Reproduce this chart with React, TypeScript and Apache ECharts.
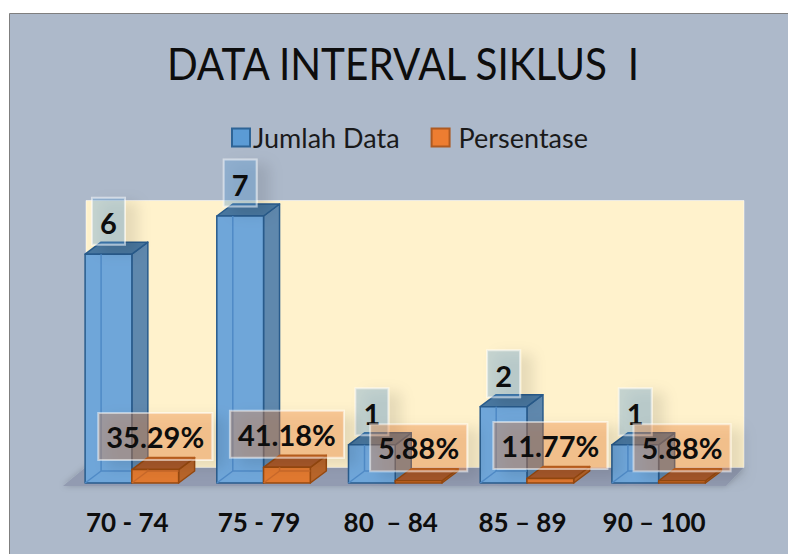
import React, { useEffect, useRef } from "react";
import * as echarts from "echarts";

const titleText = "DATA INTERVAL SIKLUS  I";
const categories = ["70 - 74", "75 - 79", "80  – 84", "85 – 89", "90 – 100"];
const jumlahData = [6, 7, 1, 2, 1];
const persentase = [0.3529, 0.4118, 0.0588, 0.1177, 0.0588];
const seriesNames = ["Jumlah Data", "Persentase"];

const FONT = "Lato, Carlito, Calibri, sans-serif";
const DX = 16;
const DY = 12;
const GRID = { left: 66, top: 216, width: 658.5, height: 267 };

type Palette = { front: string; side: string; top: string; edge: string; inner: string; box: string; textDy: number };
const BLUE: Palette = {
  front: "#6fa6d9", side: "#5f88ad", top: "#49779f", edge: "#285b8c", inner: "#4f8ac6", box: "rgba(91,155,213,0.35)", textDy: 1.5,
};
const ORANGE: Palette = {
  front: "#e0782f", side: "#b8652a", top: "#a9592a", edge: "#97490f", inner: "#c9692a", box: "rgba(237,125,49,0.35)", textDy: 0,
};

function makeRender(p: Palette, side: "left" | "right", fmt: (v: number) => string, boxW: (s: string) => number) {
  return (_params: any, api: any) => {
    const idx = api.value(0);
    const v = api.value(1);
    const [cx, top] = api.coord([idx, v]);
    const [, base] = api.coord([idx, 0]);
    const w = api.size([1, 0])[0] * 0.355;
    const x = side === "left" ? cx - w : cx;
    const r = x + w;
    const edge = { stroke: p.edge, lineWidth: 1.5, lineJoin: "round" };
    const label = fmt(v);
    const bw = boxW(label);
    const bh = 47;
    const bx = x + w / 2 - bw / 2;
    const by = top - 9.5 - bh;
    const h = Math.max(base - top, 0);
    const innerLine = (x1: number, y1: number, x2: number, y2: number) => ({
      type: "line",
      shape: { x1, y1, x2, y2 },
      style: { stroke: p.inner, lineWidth: 1.5 },
    });
    return {
      type: "group",
      children: [
        {
          type: "polygon",
          shape: { points: [[r, top], [r + DX, top - DY], [r + DX, base - DY], [r, base]] },
          style: { fill: p.side, ...edge },
        },
        {
          type: "polygon",
          shape: { points: [[x, top], [x + DX, top - DY], [r + DX, top - DY], [r, top]] },
          style: { fill: p.top, ...edge },
        },
        { type: "rect", shape: { x, y: top, width: w, height: h }, style: { fill: p.front, ...edge } },
        ...(h > 13
          ? [
              innerLine(x + DX, top, x + DX, base - DY),
              innerLine(x + DX, base - DY, r, base - DY),
              innerLine(x, base, x + DX, base - DY),
            ]
          : []),
        {
          type: "rect",
          shape: { x: bx, y: by, width: bw, height: bh },
          style: {
            fill: p.box,
            stroke: "rgba(255,255,255,0.5)",
            lineWidth: 2,
            shadowColor: "rgba(0,0,0,0.28)",
            shadowBlur: 14,
            shadowOffsetX: 11,
            shadowOffsetY: 6,
          },
        },
        {
          type: "text",
          style: {
            x: bx + bw / 2,
            y: by + bh / 2 + p.textDy,
            text: label,
            fill: "#0d0d0d",
            font: `bold 29px ${FONT}`,
            align: "center",
            verticalAlign: "middle",
          },
        },
      ],
    };
  };
}

export default function App() {
  const ref = useRef<HTMLDivElement>(null);
  useEffect(() => {
    document.body.style.margin = "0";
    const chart = echarts.init(ref.current!, undefined, { renderer: "svg" });
    chart.setOption({
      animation: false,
      backgroundColor: "#ffffff",
      legend: {
        left: 226,
        top: 119,
        itemWidth: 18,
        itemHeight: 18,
        itemGap: 31,
        icon: "rect",
        data: [
          { name: seriesNames[0] },
          { name: seriesNames[1], textStyle: { padding: [0, 0, 0, 4] } },
        ],
        textStyle: { fontFamily: FONT, fontSize: 27, color: "#1a1a1a", padding: [0, 0, 0, -2] },
      },
      graphic: [
        {
          type: "rect",
          z: -3,
          shape: { x: 9.5, y: 13.5, width: 790, height: 550 },
          style: { fill: "#adb9ca", stroke: "#7f7f7f", lineWidth: 1 },
        },
        {
          type: "polygon",
          z: -2,
          shape: { points: [[63, 486], [86, 467], [744, 467], [726, 486]] },
          style: { fill: "#929bb1", shadowColor: "rgba(0,0,0,0.2)", shadowBlur: 6 },
        },
        {
          type: "rect",
          z: -1,
          shape: { x: 86, y: 200.5, width: 658, height: 267 },
          style: { fill: "#fff2cc", stroke: "rgba(255,255,255,0.5)", lineWidth: 1 },
        },
        {
          type: "text",
          x: 403,
          y: 63,
          scaleX: 0.92,
          style: {
            text: titleText,
            fill: "#0d0d0d",
            font: `normal 44px ${FONT}`,
            align: "center",
            verticalAlign: "middle",
          },
        },
      ],
      grid: GRID,
      xAxis: {
        type: "category",
        data: categories,
        axisLine: { show: false },
        axisTick: { show: false },
        axisLabel: {
          interval: 0,
          margin: 26,
          padding: [0, 9, 0, 0],
          fontFamily: FONT,
          fontSize: 26,
          fontWeight: "bold",
          color: "#0d0d0d",
        },
      },
      yAxis: { type: "value", min: 0, max: 7, show: false, splitLine: { show: false } },
      series: [
        {
          name: seriesNames[0],
          type: "custom",
          clip: false,
          itemStyle: { color: "#5b9bd5", borderColor: "#2e6496", borderWidth: 2 },
          renderItem: makeRender(BLUE, "left", (v) => String(v), () => 33),
          data: jumlahData.map((v, i) => [i, v]),
        },
        {
          name: seriesNames[1],
          type: "custom",
          clip: false,
          itemStyle: { color: "#ed7d31", borderColor: "#ae5a21", borderWidth: 2 },
          renderItem: makeRender(ORANGE, "right", (v) => `${(v * 100).toFixed(2)}%`, (s) => (s.length > 5 ? 114 : 97)),
          data: persentase.map((v, i) => [i, v]),
        },
      ],
    });
    return () => chart.dispose();
  }, []);
  return <div ref={ref} style={{ width: 788, height: 554 }} />;
}
